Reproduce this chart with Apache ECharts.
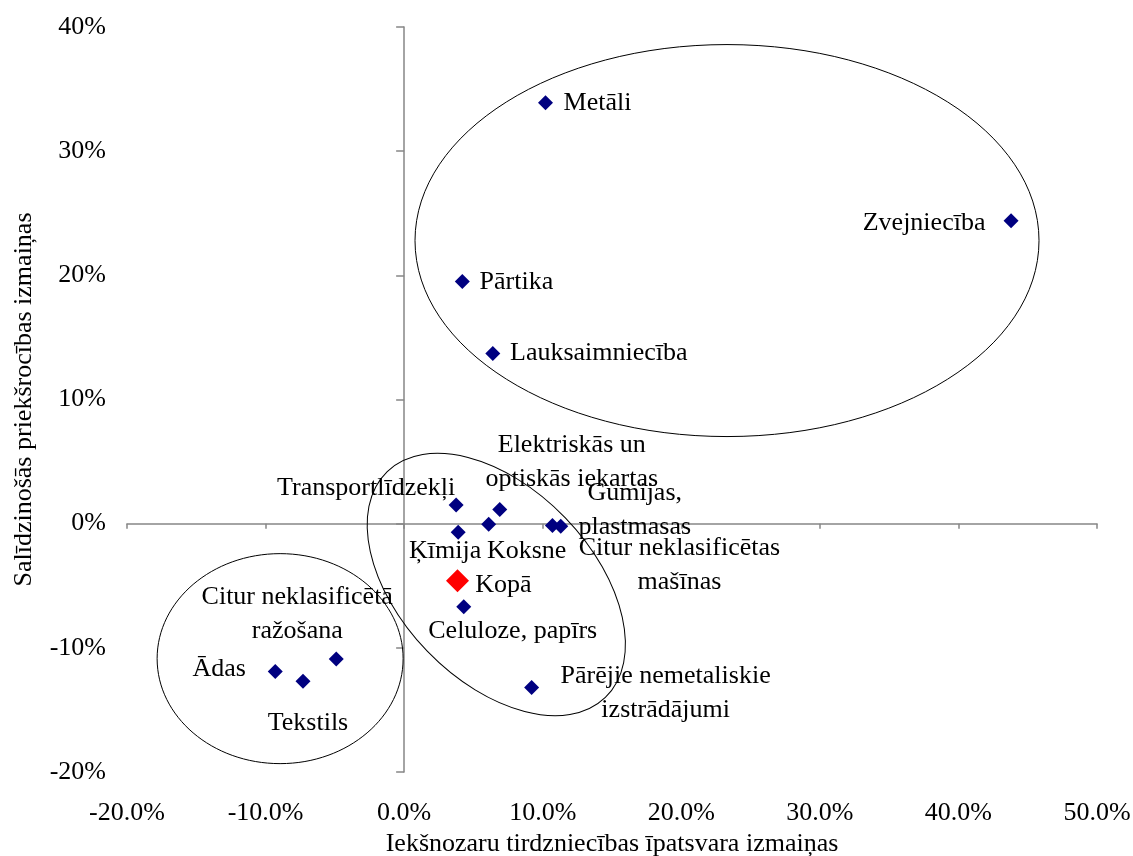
<!DOCTYPE html>
<html>
<head>
<meta charset="utf-8">
<script src="https://cdn.jsdelivr.net/npm/echarts@6/dist/echarts.min.js"></script>
<style>
  html, body { margin: 0; padding: 0; background: #fff; }
  #chart { width: 1133px; height: 856px; }
</style>
</head>
<body>
<div id="chart"></div>
<script>
// Sectors: change in intra-industry trade share (x, %) vs change in revealed comparative advantage (y, %)
const sectors = [
  'Metāli', 'Zvejniecība', 'Pārtika', 'Lauksaimniecība', 'Transportlīdzekļi',
  'Elektriskās un\noptiskās iekartas', 'Koksne', 'Ķīmija', 'Gumijas,\nplastmasas',
  'Citur neklasificētas\nmašīnas', 'Celuloze, papīrs', 'Pārējie nemetaliskie\nizstrādājumi',
  'Ādas', 'Tekstils', 'Citur neklasificētā\nražošana'
];
const intraShareChange = [10.2, 43.8, 4.2, 6.4, 3.75, 6.9, 6.1, 3.9, 11.3, 10.7, 4.3, 9.2, -9.3, -7.3, -4.9];
const advantageChange  = [33.9, 24.4, 19.5, 13.7, 1.5, 1.15, -0.05, -0.7, -0.2, -0.15, -6.7, -13.2, -11.9, -12.7, -10.9];

// Overall total
const totalName = 'Kopā';
const totalX = 3.85;
const totalY = -4.6;

// Axis ticks
const xTicks = { min: -20, max: 50, step: 10 };
const yTicks = { min: -20, max: 40, step: 10 };

// Label placement (pixel offset of label centre from the marker)
const labelOffsets = [
  [52, 0], [-87, 2], [54, 1], [106, 0], [-90, -17],
  [72, -47], [38, 27], [-13, 19], [74, -16],
  [127, 40], [49, 24], [134, 6],
  [-56, -2], [5, 42], [-39, -45]
];
const totalLabelOffset = [46, 4];

// Group outlines: centre in data units, radii in pixels, rotation in degrees (clockwise)
const groupOutlines = [
  { cx: 23.3, cy: 22.8, rx: 312, ry: 196, rot: 0 },
  { cx: -8.95, cy: -10.87, rx: 123, ry: 105, rot: 0 },
  { cx: 6.65, cy: -4.9, rx: 157, ry: 96, rot: 46 }
];

const FONT = 'Liberation Serif, Times New Roman, serif';
const AXIS_GRAY = '#868686';

const chart = echarts.init(document.getElementById('chart'), null, { renderer: 'canvas' });

const sectorData = sectors.map((name, i) => ({
  name: name,
  value: [intraShareChange[i], advantageChange[i]],
  label: { offset: labelOffsets[i] }
}));

const textStyle = { fontFamily: FONT, fontSize: 26, color: '#000' };

chart.setOption({
  animation: false,
  backgroundColor: '#fff',
  grid: { left: 127, right: 36, top: 27, bottom: 84, containLabel: false, outerBoundsMode: 'none' },
  xAxis: [
    {
      type: 'value', min: xTicks.min, max: xTicks.max, interval: xTicks.step,
      position: 'bottom',
      axisLine: { show: false, onZero: false },
      axisTick: { show: false },
      splitLine: { show: false },
      axisLabel: Object.assign({ margin: 28, formatter: v => v.toFixed(1) + '%' }, textStyle),
      name: 'Iekšnozaru tirdzniecības īpatsvara izmaiņas',
      nameLocation: 'middle', nameGap: 57,
      nameTextStyle: textStyle
    },
    {
      type: 'value', min: xTicks.min, max: xTicks.max, interval: xTicks.step,
      position: 'top',
      axisLine: { show: true, onZero: true, onZeroAxisIndex: 0, lineStyle: { color: AXIS_GRAY, width: 1.5 } },
      axisTick: { show: true, inside: true, length: 5, lineStyle: { color: AXIS_GRAY, width: 1.5 } },
      axisLabel: { show: false },
      splitLine: { show: false }
    }
  ],
  yAxis: [
    {
      type: 'value', min: yTicks.min, max: yTicks.max, interval: yTicks.step,
      position: 'left',
      axisLine: { show: false, onZero: false },
      axisTick: { show: false },
      splitLine: { show: false },
      axisLabel: Object.assign({ margin: 21, formatter: v => v + '%' }, textStyle),
      name: 'Salīdzinošās priekšrocības izmaiņas',
      nameLocation: 'middle', nameGap: 90, nameRotate: 90,
      nameTextStyle: textStyle
    },
    {
      type: 'value', min: yTicks.min, max: yTicks.max, interval: yTicks.step,
      position: 'right',
      axisLine: { show: true, onZero: true, onZeroAxisIndex: 0, lineStyle: { color: AXIS_GRAY, width: 1.5 } },
      axisTick: { show: true, inside: true, length: 8, lineStyle: { color: AXIS_GRAY, width: 1.5 } },
      axisLabel: { show: false },
      splitLine: { show: false }
    }
  ],
  series: [
    {
      type: 'scatter', xAxisIndex: 0, yAxisIndex: 0,
      symbol: 'diamond', symbolSize: 15,
      itemStyle: { color: '#000080', opacity: 1 },
      label: Object.assign({
        show: true, position: 'inside', align: 'center', verticalAlign: 'middle',
        lineHeight: 34, formatter: p => p.name
      }, textStyle),
      emphasis: { disabled: true },
      data: sectorData,
      z: 3
    },
    {
      type: 'scatter', xAxisIndex: 0, yAxisIndex: 0,
      symbol: 'diamond', symbolSize: 23,
      itemStyle: { color: '#ff0000', opacity: 1 },
      label: Object.assign({
        show: true, position: 'inside', align: 'center', verticalAlign: 'middle',
        offset: totalLabelOffset, formatter: p => p.name
      }, textStyle),
      emphasis: { disabled: true },
      data: [{ name: totalName, value: [totalX, totalY] }],
      z: 4
    }
  ]
});

// Outline the sector groups
chart.setOption({
  graphic: groupOutlines.map(g => {
    const c = chart.convertToPixel({ gridIndex: 0 }, [g.cx, g.cy]);
    return {
      type: 'ellipse',
      x: c[0], y: c[1],
      rotation: -g.rot * Math.PI / 180,
      shape: { cx: 0, cy: 0, rx: g.rx, ry: g.ry },
      style: { fill: null, stroke: '#000', lineWidth: 1 },
      silent: true,
      z: 1
    };
  })
});
</script>
</body>
</html>
